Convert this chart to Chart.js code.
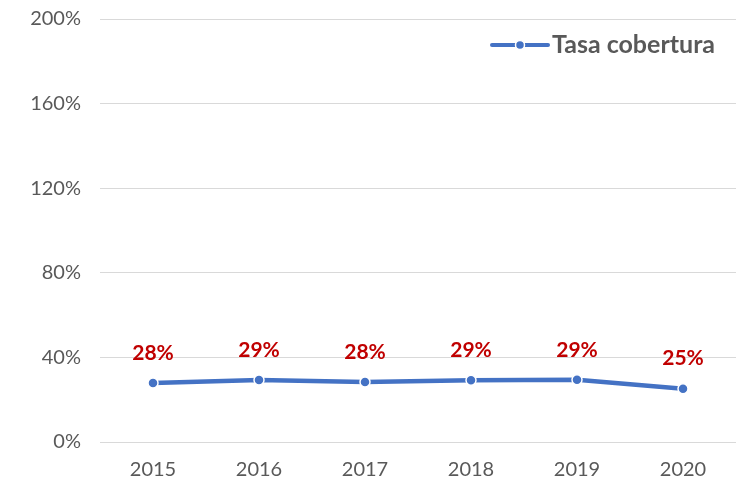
<!DOCTYPE html>
<html>
<head>
<meta charset="utf-8">
<script src="https://cdn.jsdelivr.net/npm/chart.js@4.4.1/dist/chart.umd.min.js"></script>
<style>
  html, body { margin: 0; padding: 0; background: #fff; }
  #wrap { width: 737px; height: 485px; }
</style>
</head>
<body>
<div id="wrap"><canvas id="chart"></canvas></div>
<script>
const years = ['2015', '2016', '2017', '2018', '2019', '2020'];
const coverage = [0.279, 0.293, 0.284, 0.292, 0.294, 0.252];
const seriesName = 'Tasa cobertura';

const blue = '#4472C4';
const darkRed = '#C00000';
const grey = '#595959';
const fontFamily = "Lato, 'Liberation Sans', sans-serif";

// labels above each point plus the legend drawn over the plot area
const overlay = {
    id: 'overlay',
    afterDatasetsDraw(chart) {
        const ctx = chart.ctx;
        const meta = chart.getDatasetMeta(0);
        ctx.save();
        ctx.font = 'bold 21px ' + fontFamily;
        ctx.fillStyle = darkRed;
        ctx.textAlign = 'center';
        ctx.textBaseline = 'middle';
        meta.data.forEach((pt, i) => {
            ctx.fillText(Math.round(coverage[i] * 100) + '%', pt.x, pt.y - 30);
        });

        // legend
        const lx = 492, ly = 45;
        ctx.strokeStyle = blue;
        ctx.lineWidth = 4;
        ctx.lineCap = 'round';
        ctx.beginPath();
        ctx.moveTo(lx, ly);
        ctx.lineTo(lx + 56, ly);
        ctx.stroke();
        ctx.beginPath();
        ctx.arc(lx + 28, ly, 4.5, 0, Math.PI * 2);
        ctx.fillStyle = blue;
        ctx.fill();
        ctx.lineWidth = 1.5;
        ctx.strokeStyle = '#fff';
        ctx.stroke();
        ctx.font = 'bold 25px ' + fontFamily;
        ctx.fillStyle = grey;
        ctx.textAlign = 'left';
        ctx.fillText(seriesName, lx + 60, ly);
        ctx.restore();
    }
};

new Chart(document.getElementById('chart'), {
    type: 'line',
    data: {
        labels: years,
        datasets: [{
            label: seriesName,
            data: coverage,
            borderColor: blue,
            backgroundColor: blue,
            borderWidth: 4.5,
            pointRadius: 5,
            pointBorderColor: '#fff',
            pointBorderWidth: 1.5,
            pointBackgroundColor: blue,
            tension: 0
        }]
    },
    options: {
        responsive: true,
        maintainAspectRatio: false,
        animation: false,
        layout: { autoPadding: false, padding: { top: 19, right: 1, left: 0, bottom: 0 } },
        plugins: { legend: { display: false }, tooltip: { enabled: false } },
        scales: {
            x: {
                offset: true,
                afterFit: s => { s.height = 43; },
                grid: { display: false, drawTicks: false },
                border: { display: false },
                ticks: { color: grey, font: { family: fontFamily, size: 20 }, padding: 16 }
            },
            y: {
                min: 0,
                max: 2,
                afterFit: s => { s.width = 100; s.paddingTop = 0; s.paddingBottom = 0; },
                border: { display: false },
                grid: { color: '#D9D9D9', lineWidth: 1, drawTicks: false },
                ticks: {
                    stepSize: 0.4,
                    padding: 19,
                    color: grey,
                    font: { family: fontFamily, size: 20 },
                    callback: v => Math.round(v * 100) + '%'
                }
            }
        }
    },
    plugins: [overlay]
});
</script>
</body>
</html>
